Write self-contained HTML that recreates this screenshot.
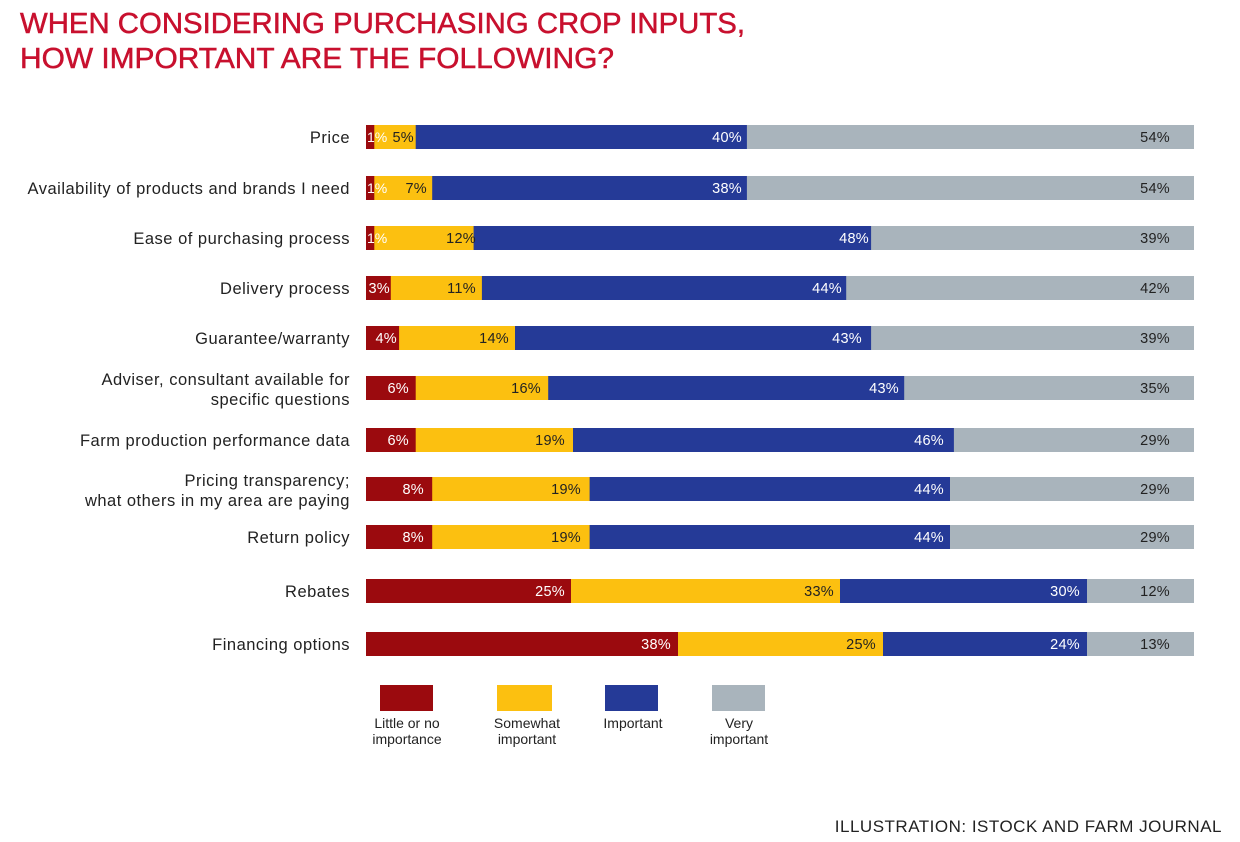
<!DOCTYPE html>
<html><head><meta charset="utf-8"><style>
html,body{margin:0;padding:0;background:#fff;}
svg{display:block;font-family:"Liberation Sans",sans-serif;}
.r{fill:#9b0a0e}.y{fill:#fcc010}.b{fill:#253a97}.g{fill:#a9b4bc}
.w{fill:#fff;font-size:14.5px;text-anchor:end;letter-spacing:0.3px}.d{fill:#222;font-size:14.5px;text-anchor:end;letter-spacing:0.3px}
.c{fill:#222;font-size:16.5px;text-anchor:end;letter-spacing:0.5px}
</style></head><body>
<svg width="1240" height="842" viewBox="0 0 1240 842" xmlns="http://www.w3.org/2000/svg">
<text x="20" y="33" font-size="29" fill="#c8102e" stroke="#c8102e" stroke-width="0.5" textLength="725" lengthAdjust="spacingAndGlyphs">WHEN CONSIDERING PURCHASING CROP INPUTS,</text>
<text x="20" y="68" font-size="29" fill="#c8102e" stroke="#c8102e" stroke-width="0.5" textLength="594" lengthAdjust="spacingAndGlyphs">HOW IMPORTANT ARE THE FOLLOWING?</text>

<text class="c" x="350" y="143">Price</text>
<rect class="r" x="366" y="125" width="9" height="24"/><rect class="y" x="374.3" y="125" width="42" height="24"/><rect class="b" x="415.7" y="125" width="332" height="24"/><rect class="g" x="746.9" y="125" width="447.1" height="24"/>
<text x="367" y="142" fill="#fff" font-size="14">1%</text><text class="d" x="414" y="142">5%</text><text class="w" x="742" y="142">40%</text><text class="d" x="1170" y="142">54%</text>

<text class="c" x="350" y="194">Availability of products and brands I need</text>
<rect class="r" x="366" y="176" width="9" height="24"/><rect class="y" x="374.3" y="176" width="58.5" height="24"/><rect class="b" x="432.2" y="176" width="315.4" height="24"/><rect class="g" x="746.9" y="176" width="447.1" height="24"/>
<text x="367" y="193" fill="#fff" font-size="14">1%</text><text class="d" x="427" y="193">7%</text><text class="w" x="742" y="193">38%</text><text class="d" x="1170" y="193">54%</text>

<text class="c" x="350" y="244">Ease of purchasing process</text>
<rect class="r" x="366" y="226" width="9" height="24"/><rect class="y" x="374.3" y="226" width="100" height="24"/><rect class="b" x="473.6" y="226" width="398" height="24"/><rect class="g" x="871.1" y="226" width="322.9" height="24"/>
<text x="367" y="243" fill="#fff" font-size="14">1%</text><text class="d" x="476" y="243">12%</text><text class="w" x="869" y="243">48%</text><text class="d" x="1170" y="243">39%</text>

<text class="c" x="350" y="294">Delivery process</text>
<rect class="r" x="366" y="276" width="25.3" height="24"/><rect class="y" x="390.8" y="276" width="91.6" height="24"/><rect class="b" x="481.9" y="276" width="364.8" height="24"/><rect class="g" x="846.2" y="276" width="347.8" height="24"/>
<text class="w" x="390" y="293">3%</text><text class="d" x="476" y="293">11%</text><text class="w" x="842" y="293">44%</text><text class="d" x="1170" y="293">42%</text>

<text class="c" x="350" y="344">Guarantee/warranty</text>
<rect class="r" x="366" y="326" width="33.6" height="24"/><rect class="y" x="399.1" y="326" width="116.4" height="24"/><rect class="b" x="515" y="326" width="356.6" height="24"/><rect class="g" x="871.1" y="326" width="322.9" height="24"/>
<text class="w" x="397" y="343">4%</text><text class="d" x="509" y="343">14%</text><text class="w" x="862" y="343">43%</text><text class="d" x="1170" y="343">39%</text>

<text class="c" x="350" y="385">Adviser, consultant available for</text>
<text class="c" x="350" y="405">specific questions</text>
<rect class="r" x="366" y="376" width="50.2" height="24"/><rect class="y" x="415.7" y="376" width="133" height="24"/><rect class="b" x="548.2" y="376" width="356.5" height="24"/><rect class="g" x="904.2" y="376" width="289.8" height="24"/>
<text class="w" x="409" y="393">6%</text><text class="d" x="541" y="393">16%</text><text class="w" x="899" y="393">43%</text><text class="d" x="1170" y="393">35%</text>

<text class="c" x="350" y="446">Farm production performance data</text>
<rect class="r" x="366" y="428" width="50.2" height="24"/><rect class="y" x="415.7" y="428" width="157.8" height="24"/><rect class="b" x="573" y="428" width="381.4" height="24"/><rect class="g" x="953.9" y="428" width="240.1" height="24"/>
<text class="w" x="409" y="445">6%</text><text class="d" x="565" y="445">19%</text><text class="w" x="944" y="445">46%</text><text class="d" x="1170" y="445">29%</text>

<text class="c" x="350" y="486">Pricing transparency;</text>
<text class="c" x="350" y="506">what others in my area are paying</text>
<rect class="r" x="366" y="477" width="66.7" height="24"/><rect class="y" x="432.2" y="477" width="157.9" height="24"/><rect class="b" x="589.6" y="477" width="364.8" height="24"/><rect class="g" x="950" y="477" width="244" height="24"/>
<text class="w" x="424" y="494">8%</text><text class="d" x="581" y="494">19%</text><text class="w" x="944" y="494">44%</text><text class="d" x="1170" y="494">29%</text>

<text class="c" x="350" y="543">Return policy</text>
<rect class="r" x="366" y="525" width="66.7" height="24"/><rect class="y" x="432.2" y="525" width="157.9" height="24"/><rect class="b" x="589.6" y="525" width="364.8" height="24"/><rect class="g" x="950" y="525" width="244" height="24"/>
<text class="w" x="424" y="542">8%</text><text class="d" x="581" y="542">19%</text><text class="w" x="944" y="542">44%</text><text class="d" x="1170" y="542">29%</text>

<text class="c" x="350" y="597">Rebates</text>
<rect class="r" x="366" y="579" width="205.5" height="24"/><rect class="y" x="571" y="579" width="269.5" height="24"/><rect class="b" x="840" y="579" width="247.5" height="24"/><rect class="g" x="1087" y="579" width="107" height="24"/>
<text class="w" x="565" y="596">25%</text><text class="d" x="834" y="596">33%</text><text class="w" x="1080" y="596">30%</text><text class="d" x="1170" y="596">12%</text>

<text class="c" x="350" y="650">Financing options</text>
<rect class="r" x="366" y="632" width="312.5" height="24"/><rect class="y" x="678" y="632" width="205.5" height="24"/><rect class="b" x="883" y="632" width="204.5" height="24"/><rect class="g" x="1087" y="632" width="107" height="24"/>
<text class="w" x="671" y="649">38%</text><text class="d" x="876" y="649">25%</text><text class="w" x="1080" y="649">24%</text><text class="d" x="1170" y="649">13%</text>

<g font-size="14" fill="#222" text-anchor="middle">
<rect x="380" y="685" width="53" height="26" fill="#9b0a0e"/>
<rect x="497" y="685" width="55" height="26" fill="#fcc010"/>
<rect x="605" y="685" width="53" height="26" fill="#253a97"/>
<rect x="712" y="685" width="53" height="26" fill="#a9b4bc"/>
<text x="407" y="728">Little or no</text><text x="407" y="744">importance</text>
<text x="527" y="728">Somewhat</text><text x="527" y="744">important</text>
<text x="633" y="728">Important</text>
<text x="739" y="728">Very</text><text x="739" y="744">important</text>
</g>
<text x="1222" y="832" font-size="17" fill="#222" text-anchor="end" letter-spacing="0.5">ILLUSTRATION: ISTOCK AND FARM JOURNAL</text>
</svg>
</body></html>
